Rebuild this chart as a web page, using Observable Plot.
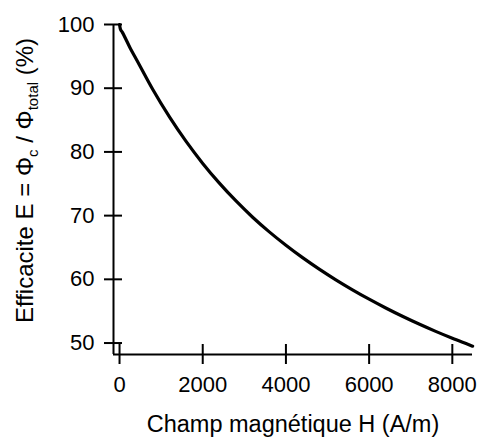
<!DOCTYPE html>
<html>
<head>
<meta charset="utf-8">
<script src="https://cdn.jsdelivr.net/npm/d3@7"></script>
<script src="https://cdn.jsdelivr.net/npm/@observablehq/plot@0.6"></script>
<style>
  html, body { margin: 0; padding: 0; background: #fff; }
</style>
</head>
<body>
<div id="chart"></div>
<script>
// Champ magnétique H (A/m)
const fieldH = [0, 20, 65, 264, 400, 800, 1200, 1600, 2000, 2400, 2800, 3200, 3600, 4000, 4400, 4800, 5200, 5600, 6000, 6400, 6800, 7200, 7600, 8000, 8400, 8489];
// Efficacité E (%)
const efficiency = [100, 99.3, 98.8, 96.2, 94.6, 89.8, 85.5, 81.65, 78.2, 75.1, 72.3, 69.75, 67.45, 65.35, 63.4, 61.6, 59.92, 58.35, 56.88, 55.5, 54.2, 52.98, 51.83, 50.75, 49.73, 49.5];

const xTicks = [0, 2000, 4000, 6000, 8000];
const yTicks = [50, 60, 70, 80, 90, 100];
const xDomain = [-145, 8485];
const yDomain = [48.2, 100];
const xTitle = "Champ magnétique H (A/m)";
const yTitle = "Efficacite E = Φc / Φtotal (%)";

const data = fieldH.map((h, i) => ({h, e: efficiency[i]}));

const font = "'Liberation Sans', Arial, sans-serif";

const chart = Plot.plot({
  width: 482,
  height: 438,
  marginLeft: 113,
  marginRight: 10,
  marginTop: 24,
  marginBottom: 84,
  style: {fontFamily: font, fontSize: "22px", color: "#000", background: "#fff"},
  x: {domain: xDomain},
  y: {domain: yDomain},
  marks: [
    Plot.axisX(xTicks, {tickSize: 20, dy: -10, tickPadding: 12, strokeWidth: 2, fontSize: 22, label: null, tickFormat: d => String(d)}),
    Plot.axisY(yTicks, {tickSize: 18, dx: 9, tickPadding: 10, strokeWidth: 2, fontSize: 22, label: null, tickFormat: d => String(d)}),
    Plot.ruleX([xDomain[0]], {stroke: "#000", strokeWidth: 2}),
    Plot.ruleY([yDomain[0]], {stroke: "#000", strokeWidth: 2}),
    Plot.line(data, {x: "h", y: "e", stroke: "#000", strokeWidth: 3.2, curve: "monotone-x"}),
    Plot.text([xTitle], {frameAnchor: "bottom", lineAnchor: "top", dy: 61, fontSize: 23.5, fill: "#000"}),
    Plot.text([yTitle], {frameAnchor: "left", rotate: -90, textAnchor: "middle", lineAnchor: "middle", dx: -88, dy: -9, fontSize: 24, fill: "#000"})
  ]
});

document.getElementById("chart").appendChild(chart);

// Render the subscripts of the y title as real text
d3.select(chart).selectAll("text").filter(function() { return this.textContent === yTitle; }).each(function() {
  const t = d3.select(this);
  t.text(null);
  t.append("tspan").text("Efficacite E = Φ");
  t.append("tspan").attr("font-size", "15px").attr("dy", "5").text("c");
  t.append("tspan").attr("dy", "-5").text(" / Φ");
  t.append("tspan").attr("font-size", "15px").attr("dy", "5").text("total");
  t.append("tspan").attr("dy", "-5").text(" (%)");
});
</script>
</body>
</html>
